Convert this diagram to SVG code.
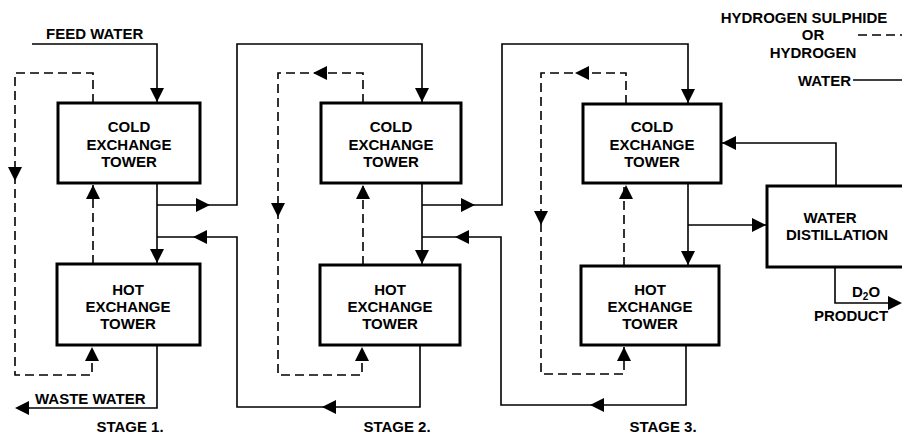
<svg xmlns="http://www.w3.org/2000/svg" xmlns:xlink="http://www.w3.org/1999/xlink" width="902" height="434" viewBox="0 0 902 434">
<style>
  .box { fill: #fff; stroke: #000; stroke-width: 3; }
  .t { font-family: "Liberation Sans", Arial, sans-serif; font-weight: bold; font-size: 15px; fill: #000; }
  .c { text-anchor: middle; }
  .w { fill: none; stroke: #000; stroke-width: 1.6; }
  .g { fill: none; stroke: #000; stroke-width: 1.6; stroke-dasharray: 9 5; }
</style>
<defs>
  <path id="ah" d="M0,0 L-14,-7 L-14,7 Z" fill="#000"/>
</defs>
<rect width="902" height="434" fill="#fff"/>

<g id="connectors">
  <!-- water lines -->
  <polyline class="w" points="32,44 157,44 157,103"/>
  <line class="w" x1="157" y1="183" x2="157" y2="264"/>
  <polyline class="w" points="157,205 237,205 237,44 422,44 422,103"/>
  <polyline class="w" points="157,237 237,237 237,407 420,407 420,345"/>
  <polyline class="w" points="157,345 157,408 17,408"/>
  <line class="w" x1="422" y1="183" x2="422" y2="265"/>
  <polyline class="w" points="422,205 502,205 502,44 688,44 688,104"/>
  <polyline class="w" points="422,237 501,237 501,405 686,405 686,345"/>
  <line class="w" x1="688" y1="183" x2="688" y2="266"/>
  <line class="w" x1="688" y1="225" x2="767" y2="225"/>
  <polyline class="w" points="836,186 836,143 721,143"/>
  <polyline class="w" points="835,267 835,303 900,303"/>
  <line class="w" x1="853" y1="80" x2="902" y2="80"/>

  <!-- gas lines -->
  <polyline class="g" points="93,103 93,73 15,73 15,375 92,375 92,345"/>
  <line class="g" x1="93" y1="264" x2="93" y2="183"/>
  <polyline class="g" points="363,103 363,73 278,73 278,375 362,375 362,345"/>
  <line class="g" x1="363" y1="265" x2="363" y2="183"/>
  <polyline class="g" points="626,104 626,73 541,73 541,374 624,374 624,345"/>
  <line class="g" x1="624" y1="266" x2="624" y2="183"/>
  <line class="g" x1="858" y1="35" x2="902" y2="35"/>

  <!-- arrowheads -->
  <use xlink:href="#ah" transform="translate(157,102) rotate(90)"/>
  <use xlink:href="#ah" transform="translate(157,263) rotate(90)"/>
  <use xlink:href="#ah" transform="translate(15,181) rotate(90)"/>
  <use xlink:href="#ah" transform="translate(93,185) rotate(-90)"/>
  <use xlink:href="#ah" transform="translate(92,347) rotate(-90)"/>
  <use xlink:href="#ah" transform="translate(210,205)"/>
  <use xlink:href="#ah" transform="translate(193,237) rotate(180)"/>
  <use xlink:href="#ah" transform="translate(15,408) rotate(180)"/>

  <use xlink:href="#ah" transform="translate(422,102) rotate(90)"/>
  <use xlink:href="#ah" transform="translate(313,73) rotate(180)"/>
  <use xlink:href="#ah" transform="translate(278,217) rotate(90)"/>
  <use xlink:href="#ah" transform="translate(363,185) rotate(-90)"/>
  <use xlink:href="#ah" transform="translate(362,347) rotate(-90)"/>
  <use xlink:href="#ah" transform="translate(422,264) rotate(90)"/>
  <use xlink:href="#ah" transform="translate(475,205)"/>
  <use xlink:href="#ah" transform="translate(455,237) rotate(180)"/>
  <use xlink:href="#ah" transform="translate(322,407) rotate(180)"/>

  <use xlink:href="#ah" transform="translate(688,103) rotate(90)"/>
  <use xlink:href="#ah" transform="translate(575,73) rotate(180)"/>
  <use xlink:href="#ah" transform="translate(541,225) rotate(90)"/>
  <use xlink:href="#ah" transform="translate(626,185) rotate(-90)"/>
  <use xlink:href="#ah" transform="translate(624,347) rotate(-90)"/>
  <use xlink:href="#ah" transform="translate(688,265) rotate(90)"/>
  <use xlink:href="#ah" transform="translate(766,225)"/>
  <use xlink:href="#ah" transform="translate(722,143) rotate(180)"/>
  <use xlink:href="#ah" transform="translate(590,405) rotate(180)"/>
  <use xlink:href="#ah" transform="translate(902,303)"/>
</g>

<g id="cold1">
  <rect class="box" x="58" y="103" width="142" height="80"/>
  <text class="t c" x="129" y="132">COLD</text>
  <text class="t c" x="129" y="150">EXCHANGE</text>
  <text class="t c" x="129" y="167">TOWER</text>
</g>
<g id="hot1">
  <rect class="box" x="57" y="264" width="143" height="81"/>
  <text class="t c" x="128" y="295">HOT</text>
  <text class="t c" x="128" y="312">EXCHANGE</text>
  <text class="t c" x="128" y="329">TOWER</text>
</g>
<g id="cold2">
  <rect class="box" x="321" y="103" width="140" height="80"/>
  <text class="t c" x="391" y="132">COLD</text>
  <text class="t c" x="391" y="150">EXCHANGE</text>
  <text class="t c" x="391" y="167">TOWER</text>
</g>
<g id="hot2">
  <rect class="box" x="320" y="265" width="140" height="80"/>
  <text class="t c" x="390" y="295">HOT</text>
  <text class="t c" x="390" y="312">EXCHANGE</text>
  <text class="t c" x="390" y="329">TOWER</text>
</g>
<g id="cold3">
  <rect class="box" x="583" y="104" width="138" height="79"/>
  <text class="t c" x="652" y="132">COLD</text>
  <text class="t c" x="652" y="150">EXCHANGE</text>
  <text class="t c" x="652" y="167">TOWER</text>
</g>
<g id="hot3">
  <rect class="box" x="581" y="266" width="138" height="79"/>
  <text class="t c" x="650" y="295">HOT</text>
  <text class="t c" x="650" y="312">EXCHANGE</text>
  <text class="t c" x="650" y="329">TOWER</text>
</g>
<g id="distillation">
  <rect class="box" x="767" y="186" width="140" height="81"/>
  <text class="t c" x="830" y="223">WATER</text>
  <text class="t c" x="837" y="240">DISTILLATION</text>
</g>

<g id="labels">
  <text class="t" x="46" y="39">FEED WATER</text>
  <text class="t" x="35" y="404">WASTE WATER</text>
  <text class="t c" x="130" y="432">STAGE 1.</text>
  <text class="t c" x="397" y="432">STAGE 2.</text>
  <text class="t c" x="663" y="432">STAGE 3.</text>
  <text class="t" x="852" y="297">D<tspan font-size="10" dy="3">2</tspan><tspan dy="-3">O</tspan></text>
  <text class="t c" x="851" y="321">PRODUCT</text>
  <text class="t c" x="804" y="23">HYDROGEN SULPHIDE</text>
  <text class="t c" x="813" y="40">OR</text>
  <text class="t c" x="813" y="58">HYDROGEN</text>
  <text class="t" x="798" y="86">WATER</text>
</g>
</svg>
